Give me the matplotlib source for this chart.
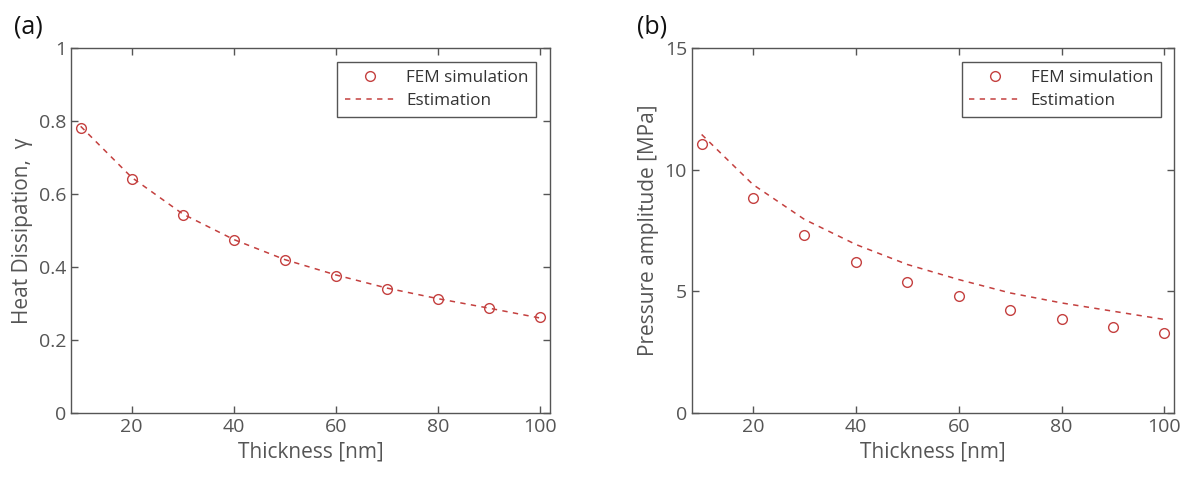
import numpy as np
import matplotlib
matplotlib.use("Agg")
import matplotlib.pyplot as plt

plt.rcParams['font.family'] = ['Open Sans', 'DejaVu Sans']

thickness = [10, 20, 30, 40, 50, 60, 70, 80, 90, 100]

heat_fem = [0.780, 0.640, 0.542, 0.473, 0.418, 0.375, 0.340, 0.312, 0.287, 0.263]
heat_est = [0.785, 0.645, 0.545, 0.475, 0.420, 0.378, 0.342, 0.313, 0.287, 0.260]

press_fem = [11.04, 8.85, 7.33, 6.19, 5.37, 4.79, 4.23, 3.86, 3.55, 3.27]
press_est = [11.44, 9.38, 7.95, 6.92, 6.10, 5.48, 4.93, 4.52, 4.18, 3.84]

red = "#c4403f"
grey = "#555555"

fig = plt.figure(figsize=(11.97, 4.83), dpi=100)
ax1 = fig.add_axes([0.0593, 0.145, 0.400, 0.756])
ax2 = fig.add_axes([0.578, 0.145, 0.403, 0.756])

def style(ax, ylim, yticks, ylabel):
    ax.set_xlim(8.1, 101.9)
    ax.set_ylim(*ylim)
    ax.set_xticks([20, 40, 60, 80, 100])
    ax.set_yticks(yticks)
    ax.set_xlabel("Thickness [nm]", fontsize=15, color=grey)
    ax.set_ylabel(ylabel, fontsize=15, color=grey)
    ax.tick_params(direction="in", top=True, right=True, labelsize=14,
                   colors=grey, length=5, width=1)
    for s in ax.spines.values():
        s.set_color(grey)
        s.set_linewidth(1)
    leg = ax.legend(loc="upper right", fontsize=12.3, fancybox=False,
                    framealpha=1, borderpad=0.45, labelspacing=0.45,
                    handlelength=3.0, handletextpad=0.6,
                    bbox_to_anchor=(0.99, 0.985))
    leg.get_frame().set_edgecolor(grey)
    for t in leg.get_texts():
        t.set_color("#333333")

ax1.plot(thickness, heat_fem, "o", mfc="none", mec=red, ms=7, mew=1, label="FEM simulation")
ax1.plot(thickness, heat_est, "--", color=red, lw=1.1, dashes=(3.5, 3.5), label="Estimation")
style(ax1, (0, 1), [0, 0.2, 0.4, 0.6, 0.8, 1], "Heat Dissipation,  γ")
ax1.set_yticklabels(["0", "0.2", "0.4", "0.6", "0.8", "1"])

ax2.plot(thickness, press_fem, "o", mfc="none", mec=red, ms=7, mew=1, label="FEM simulation")
ax2.plot(thickness, press_est, "--", color=red, lw=1.1, dashes=(3.5, 3.5), label="Estimation")
style(ax2, (0, 15), [0, 5, 10, 15], "Pressure amplitude [MPa]")

fig.text(0.012, 0.93, "(a)", fontsize=18, color="#111111")
fig.text(0.532, 0.93, "(b)", fontsize=18, color="#111111")

fig.savefig("out.png", dpi=100)
